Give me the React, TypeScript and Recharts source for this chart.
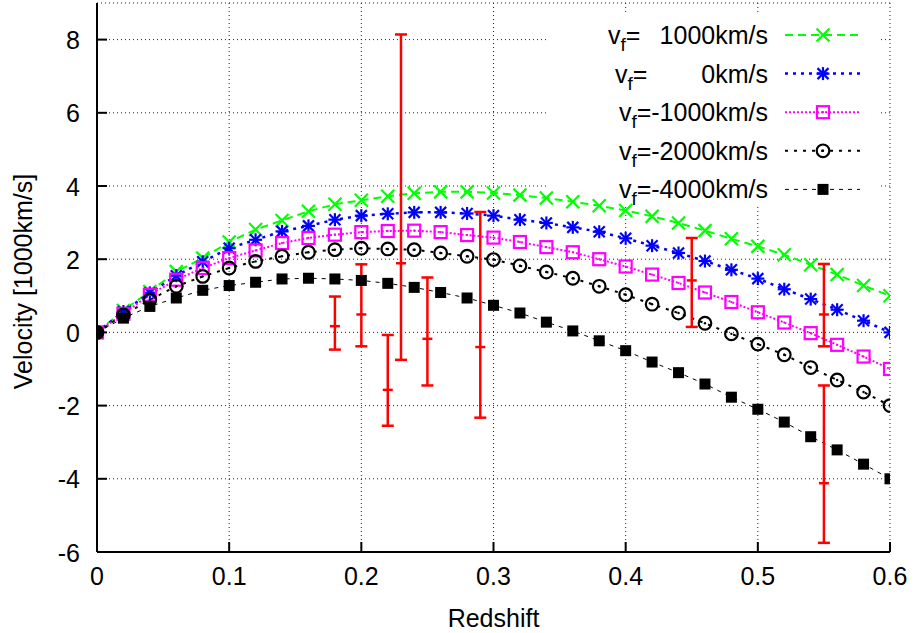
import React from 'react';
import {
  ComposedChart,
  Line,
  Scatter,
  XAxis,
  YAxis,
  CartesianGrid,
  ErrorBar,
  ReferenceArea,
  Legend,
} from 'recharts';

const FONT = '"Liberation Sans", Arial, Helvetica, sans-serif';

// ---- data ----
const redshift = [
  0, 0.02, 0.04, 0.06, 0.08, 0.1, 0.12, 0.14, 0.16, 0.18, 0.2, 0.22, 0.24, 0.26, 0.28, 0.3,
  0.32, 0.34, 0.36, 0.38, 0.4, 0.42, 0.44, 0.46, 0.48, 0.5, 0.52, 0.54, 0.56, 0.58, 0.6,
];
const vPlus1000 = [
  0, 0.6, 1.12, 1.66, 2.03, 2.47, 2.81, 3.06, 3.31, 3.5, 3.61, 3.72, 3.8, 3.84, 3.84, 3.81,
  3.75, 3.67, 3.57, 3.46, 3.33, 3.17, 2.99, 2.78, 2.56, 2.35, 2.12, 1.85, 1.58, 1.28, 1.0,
];
const vZero = [
  0, 0.57, 1.08, 1.55, 1.93, 2.3, 2.53, 2.76, 2.91, 3.08, 3.19, 3.24, 3.28, 3.28, 3.25, 3.19,
  3.08, 2.99, 2.87, 2.75, 2.57, 2.37, 2.17, 1.95, 1.71, 1.47, 1.18, 0.91, 0.62, 0.32, 0,
];
const vMinus1000 = [
  0, 0.51, 1.03, 1.44, 1.76, 2.03, 2.24, 2.44, 2.58, 2.67, 2.74, 2.77, 2.78, 2.74, 2.66, 2.59,
  2.47, 2.33, 2.19, 2.0, 1.8, 1.58, 1.35, 1.09, 0.83, 0.55, 0.27, -0.02, -0.34, -0.66, -1.0,
];
const vMinus2000 = [
  0, 0.48, 0.89, 1.26, 1.53, 1.76, 1.94, 2.08, 2.19, 2.26, 2.3, 2.28, 2.26, 2.17, 2.08, 1.99,
  1.82, 1.65, 1.48, 1.26, 1.03, 0.77, 0.53, 0.25, -0.04, -0.32, -0.61, -0.96, -1.3, -1.63, -2.0,
];
const vMinus4000 = [
  0, 0.39, 0.71, 0.94, 1.15, 1.28, 1.37, 1.46, 1.48, 1.46, 1.42, 1.34, 1.23, 1.09, 0.94, 0.74,
  0.53, 0.28, 0.04, -0.23, -0.5, -0.81, -1.1, -1.41, -1.77, -2.1, -2.45, -2.85, -3.21, -3.6, -4.0,
];

const obsZ = [0.18, 0.2, 0.22, 0.23, 0.25, 0.29, 0.45, 0.55, 0.55];
const obsV = [0.17, 0.49, -1.57, 1.89, -0.175, -0.4, 1.42, 0.49, -4.12];
const obsLow = [-0.47, -0.38, -2.55, -0.75, -1.45, -2.33, 0.15, -0.38, -5.75];
const obsHigh = [0.98, 1.86, -0.07, 8.14, 1.5, 3.29, 2.58, 1.87, -1.45];

const xTicks = [0, 0.1, 0.2, 0.3, 0.4, 0.5, 0.6];
const yTicks = [-6, -4, -2, 0, 2, 4, 6, 8];
const legendValues = ['1000', '0', '-1000', '-2000', '-4000'];

// ---- styles ----
const series = [
  { key: 'p1000', values: vPlus1000, color: '#00ff00', width: 2, dash: '8 5', marker: 'x' },
  { key: 'z0', values: vZero, color: '#0000ff', width: 2.5, dash: '3 5', marker: 'star' },
  { key: 'm1000', values: vMinus1000, color: '#ff00ff', width: 2, dash: '2 2', marker: 'sq' },
  { key: 'm2000', values: vMinus2000, color: '#000000', width: 2, dash: '3 6', marker: 'circ' },
  { key: 'm4000', values: vMinus4000, color: '#000000', width: 1, dash: '4 5', marker: 'fsq' },
];
const legendPrefixX = [608, 615];

const rows = redshift.map((z, i) => {
  const r: Record<string, number> = { z };
  series.forEach((s) => {
    r[s.key] = s.values[i];
  });
  return r;
});

const obsRows = obsZ.map((z, i) => ({
  z,
  v: obsV[i],
  err: [obsV[i] - obsLow[i], obsHigh[i] - obsV[i]],
}));

function Marker({ kind, cx, cy, color }: { kind: string; cx: number; cy: number; color: string }) {
  if (cx == null || cy == null) return null;
  const sw = 2.2;
  if (kind === 'x') {
    const h = 6.5;
    return (
      <g strokeDasharray="none">
        <line x1={cx - h} y1={cy - h} x2={cx + h} y2={cy + h} stroke={color} strokeWidth={sw} />
        <line x1={cx - h} y1={cy + h} x2={cx + h} y2={cy - h} stroke={color} strokeWidth={sw} />
      </g>
    );
  }
  if (kind === 'star') {
    const h = 5.5;
    return (
      <g strokeDasharray="none">
        <line x1={cx - h} y1={cy - h} x2={cx + h} y2={cy + h} stroke={color} strokeWidth={sw} />
        <line x1={cx - h} y1={cy + h} x2={cx + h} y2={cy - h} stroke={color} strokeWidth={sw} />
        <line x1={cx - h - 1} y1={cy} x2={cx + h + 1} y2={cy} stroke={color} strokeWidth={sw} />
        <line x1={cx} y1={cy - h - 1} x2={cx} y2={cy + h + 1} stroke={color} strokeWidth={sw} />
      </g>
    );
  }
  if (kind === 'sq') {
    return (
      <g strokeDasharray="none">
        <rect x={cx - 6} y={cy - 6} width={12} height={12} fill="none" stroke={color} strokeWidth={sw} />
        <circle cx={cx} cy={cy} r={1.1} fill={color} />
      </g>
    );
  }
  if (kind === 'circ') {
    return (
      <g strokeDasharray="none">
        <circle cx={cx} cy={cy} r={6.3} fill="none" stroke={color} strokeWidth={sw} />
        <circle cx={cx} cy={cy} r={1.2} fill={color} />
      </g>
    );
  }
  return <rect x={cx - 5.5} y={cy - 5.5} width={11} height={11} fill={color} stroke="none" />;
}

const fmtX = (v: number) => (v === 0 ? '0' : String(Math.round(v * 10) / 10));

const BottomTick = (p: any) => (
  <g>
    <line x1={p.x} x2={p.x} y1={p.y} y2={p.y - 10} stroke="#000" strokeWidth={2} />
    <text x={p.x} y={p.y + 33} textAnchor="middle" fontSize={25} fontFamily={FONT} fill="#000">
      {fmtX(p.payload.value)}
    </text>
  </g>
);
const TopTick = (p: any) => (
  <line x1={p.x} x2={p.x} y1={p.y} y2={p.y + 10} stroke="#000" strokeWidth={2} />
);
const LeftTick = (p: any) => (
  <g>
    <line x1={p.x} x2={p.x + 10} y1={p.y} y2={p.y} stroke="#000" strokeWidth={2} />
    <text x={p.x - 17} y={p.y + 9.5} textAnchor="end" fontSize={25} fontFamily={FONT} fill="#000">
      {String(p.payload.value)}
    </text>
  </g>
);
const RightTick = (p: any) => (
  <line x1={p.x} x2={p.x - 10} y1={p.y} y2={p.y} stroke="#000" strokeWidth={2} />
);

const YTitle = (p: any) => {
  const vb = p.viewBox || { x: 0, y: 3, width: 97, height: 549 };
  const x = vb.x + 32;
  const y = vb.y + vb.height / 2 + 4;
  return (
    <text
      x={x}
      y={y}
      transform={`rotate(-90, ${x}, ${y})`}
      textAnchor="middle"
      fontSize={25}
      fontFamily={FONT}
      fill="#000"
    >
      Velocity [1000km/s]
    </text>
  );
};

const renderLegend = () => (
  <svg
    width={917}
    height={230}
    style={{ position: 'absolute', left: 0, top: 0, overflow: 'visible', pointerEvents: 'none' }}
    fontFamily={FONT}
  >
    {series.map((s, i) => {
      const base = 44 + 38.6 * i;
      const my = base - 9;
      const val = legendValues[i];
      const neg = val.startsWith('-');
      return (
        <g key={s.key}>
          {neg ? (
            <text x={768} y={base} textAnchor="end" fontSize={25} fill="#000">
              v<tspan fontSize={19} dy={7}>f</tspan>
              <tspan dy={-7}>{`=${val}km/s`}</tspan>
            </text>
          ) : (
            <>
              <text x={legendPrefixX[i]} y={base} fontSize={25} fill="#000">
                v<tspan fontSize={19} dy={7}>f</tspan>
                <tspan dy={-7}>=</tspan>
              </text>
              <text x={768} y={base} textAnchor="end" fontSize={25} fill="#000">
                {`${val}km/s`}
              </text>
            </>
          )}
          <line x1={785} x2={860} y1={my} y2={my} stroke={s.color} strokeWidth={s.width} strokeDasharray={s.dash} />
          <Marker kind={s.marker} cx={823} cy={my} color={s.color} />
        </g>
      );
    })}
  </svg>
);

export default function App() {
  return (
    <div style={{ position: 'absolute', left: 0, top: 0, width: 917, height: 633, background: '#fff' }}>
      <ComposedChart width={917} height={633} data={rows} margin={{ top: 3, right: 27, bottom: 0, left: 0 }}>
        <CartesianGrid xAxisId="b" yAxisId="l" stroke="#222" strokeDasharray="1 3" strokeWidth={1} />
        <ReferenceArea
          xAxisId="b"
          yAxisId="l"
          x1={0.341}
          x2={0.592}
          y1={3.45}
          y2={8.7}
          fill="#fff"
          fillOpacity={1}
          stroke="none"
          ifOverflow="visible"
        />
        <XAxis
          xAxisId="b"
          dataKey="z"
          type="number"
          domain={[0, 0.6]}
          ticks={xTicks}
          interval={0}
          orientation="bottom"
          height={81}
          axisLine={{ stroke: '#000', strokeWidth: 2 }}
          tickLine={false}
          tickSize={0}
          tickMargin={0}
          tick={BottomTick}
          allowDataOverflow
          label={{ value: 'Redshift', position: 'insideBottom', offset: 6, fontSize: 25, fill: '#000', fontFamily: FONT }}
        />
        <XAxis
          xAxisId="t"
          dataKey="z"
          type="number"
          domain={[0, 0.6]}
          ticks={xTicks}
          interval={0}
          orientation="top"
          height={0}
          axisLine={{ stroke: '#000', strokeWidth: 2 }}
          tickLine={false}
          tickSize={0}
          tickMargin={0}
          tick={TopTick}
          allowDataOverflow
        />
        <YAxis
          yAxisId="l"
          type="number"
          domain={[-6, 9]}
          ticks={yTicks}
          interval={0}
          orientation="left"
          width={97}
          axisLine={{ stroke: '#000', strokeWidth: 2 }}
          tickLine={false}
          tickSize={0}
          tickMargin={0}
          tick={LeftTick}
          allowDataOverflow
          label={YTitle}
        />
        <YAxis
          yAxisId="r"
          type="number"
          domain={[-6, 9]}
          ticks={yTicks}
          interval={0}
          orientation="right"
          width={0}
          axisLine={{ stroke: '#000', strokeWidth: 2 }}
          tickLine={false}
          tickSize={0}
          tickMargin={0}
          tick={RightTick}
          allowDataOverflow
        />
        {series.map((s) => (
          <Line
            key={s.key}
            xAxisId="b"
            yAxisId="l"
            type="linear"
            dataKey={s.key}
            stroke={s.color}
            strokeWidth={s.width}
            strokeDasharray={s.dash}
            dot={(p: any) => (
              <Marker key={`${s.key}-${p.index}`} kind={s.marker} cx={p.cx} cy={p.cy} color={s.color} />
            )}
            activeDot={false}
            isAnimationActive={false}
          />
        ))}
        <Scatter
          xAxisId="b"
          yAxisId="l"
          data={obsRows}
          dataKey="v"
          legendType="none"
          isAnimationActive={false}
          shape={(p: any) => (
            <line x1={p.cx - 5} x2={p.cx + 5} y1={p.cy} y2={p.cy} stroke="#ff0000" strokeWidth={2.5} />
          )}
        >
          <ErrorBar dataKey="err" direction="y" width={6} stroke="#ff0000" strokeWidth={2.5} isAnimationActive={false} />
        </Scatter>
        <Legend
          content={renderLegend}
          wrapperStyle={{ position: 'absolute', left: 0, top: 0, width: 0, height: 0, overflow: 'visible' }}
        />
      </ComposedChart>
    </div>
  );
}
